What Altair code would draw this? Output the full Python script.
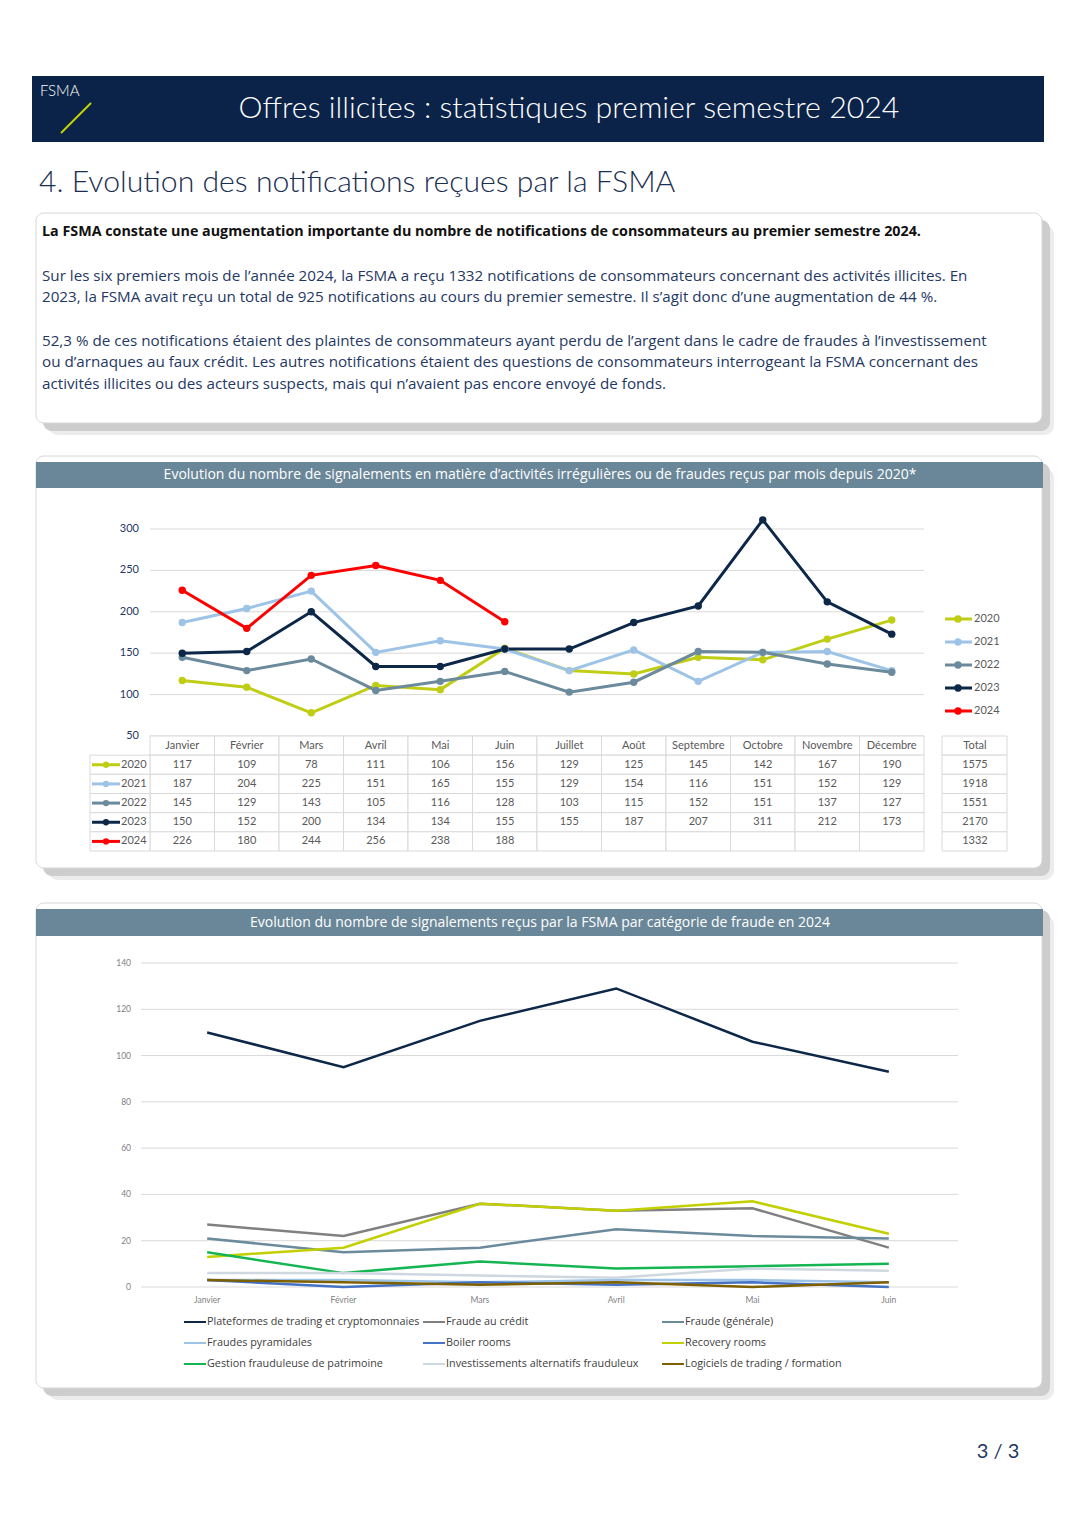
import altair as alt
import pandas as pd

M = 8  # page margin


def P(v):
    return v - M


FONT = "Lato"
FONT2 = "Open Sans"

# ---------------- texts ----------------
header_title = "Offres illicites : statistiques premier semestre 2024"
section_title = "4. Evolution des notifications reçues par la FSMA"
lead = ("La FSMA constate une augmentation importante du nombre de notifications "
        "de consommateurs au premier semestre 2024.")
para_lines = [
    "Sur les six premiers mois de l’année 2024, la FSMA a reçu 1332 notifications de consommateurs concernant des activités illicites. En",
    "2023, la FSMA avait reçu un total de 925 notifications au cours du premier semestre. Il s’agit donc d’une augmentation de 44 %.",
    "52,3 % de ces notifications étaient des plaintes de consommateurs ayant perdu de l’argent dans le cadre de fraudes à l’investissement",
    "ou d’arnaques au faux crédit. Les autres notifications étaient des questions de consommateurs interrogeant la FSMA concernant des",
    "activités illicites ou des acteurs suspects, mais qui n’avaient pas encore envoyé de fonds.",
]
chart1_title = ("Evolution du nombre de signalements en matière d’activités irrégulières "
                "ou de fraudes reçus par mois depuis 2020*")
chart2_title = "Evolution du nombre de signalements reçus par la FSMA par catégorie de fraude en  2024"
page_num = "3 / 3"

# ---------------- chart 1 data ----------------
months = ["Janvier", "Février", "Mars", "Avril", "Mai", "Juin", "Juillet", "Août",
          "Septembre", "Octobre", "Novembre", "Décembre"]
years = ["2020", "2021", "2022", "2023", "2024"]
v2020 = [117, 109, 78, 111, 106, 156, 129, 125, 145, 142, 167, 190]
v2021 = [187, 204, 225, 151, 165, 155, 129, 154, 116, 151, 152, 129]
v2022 = [145, 129, 143, 105, 116, 128, 103, 115, 152, 151, 137, 127]
v2023 = [150, 152, 200, 134, 134, 155, 155, 187, 207, 311, 212, 173]
v2024 = [226, 180, 244, 256, 238, 188]
totals = [1575, 1918, 1551, 2170, 1332]
y1_ticks = [50, 100, 150, 200, 250, 300]
year_colors = ["#bfcd14", "#9dc3e6", "#6b8a9c", "#0c2748", "#ff0000"]

# ---------------- chart 2 data ----------------
months2 = ["Janvier", "Février", "Mars", "Avril", "Mai", "Juin"]
categories = [
    "Plateformes de trading et cryptomonnaies",
    "Fraude au crédit",
    "Fraude (générale)",
    "Fraudes pyramidales",
    "Boiler rooms",
    "Recovery rooms",
    "Gestion frauduleuse de patrimoine",
    "Investissements alternatifs frauduleux",
    "Logiciels de trading / formation",
]
s_plateformes = [110, 95, 115, 129, 106, 93]
s_credit = [27, 22, 36, 33, 34, 17]
s_generale = [21, 15, 17, 25, 22, 21]
s_pyramidales = [3, 3, 2, 3, 3, 2]
s_boiler = [3, 0, 2, 1, 2, 0]
s_recovery = [13, 17, 36, 33, 37, 23]
s_gestion = [15, 6, 11, 8, 9, 10]
s_alternatifs = [6, 6, 5, 4, 8, 7]
s_logiciels = [3, 2, 1, 2, 0, 2]
y2_ticks = [0, 20, 40, 60, 80, 100, 120, 140]
cat_colors = ["#0c2748", "#808080", "#6b8a9c", "#9dc3e6", "#4472c4",
              "#c2d000", "#16b553", "#cfd8e0", "#7f6000"]

# ---------------- tables ----------------
series1 = [v2020, v2021, v2022, v2023, v2024]
rows1 = []
for y, vals in zip(years, series1):
    for i, v in enumerate(vals):
        rows1.append({"annee": y, "mois": months[i], "mi": i, "val": v, "row": y})
df1 = pd.DataFrame(rows1)

table_rows = ["Mois"] + years
df_cells = pd.DataFrame([{"row": r, "mois": m} for r in table_rows for m in months])
df_hdr = pd.DataFrame({"mois": months, "row": ["Mois"] * len(months)})
df_years = pd.DataFrame({"annee": years, "row": years})
df_tot = pd.DataFrame({"row": table_rows, "lab": ["Total"] + [str(t) for t in totals]})

series2 = [s_plateformes, s_credit, s_generale, s_pyramidales, s_boiler,
           s_recovery, s_gestion, s_alternatifs, s_logiciels]
rows2 = []
for k, (c, vals) in enumerate(zip(categories, series2)):
    for i, v in enumerate(vals):
        rows2.append({"cat": c, "k": k, "mois": months2[i], "mi": i, "val": v})
df2 = pd.DataFrame(rows2)
df_leg2 = pd.DataFrame({"cat": categories,
                        "col": [i % 3 for i in range(len(categories))],
                        "lrow": [i // 3 for i in range(len(categories))]})

dummy = pd.DataFrame({"d": [0]})


def box(x1, y1, x2, y2, **kw):
    return alt.Chart(dummy).mark_rect(**kw).encode(
        x=alt.value(P(x1)), x2=alt.value(P(x2)), y=alt.value(P(y1)), y2=alt.value(P(y2)))


def label(x, y, t, **kw):
    kw.setdefault("font", FONT)
    kw.setdefault("baseline", "middle")
    return alt.Chart(dummy).mark_text(text=t, **kw).encode(
        x=alt.value(P(x)), y=alt.value(P(y)))


def panel(x1, y1, x2, y2):
    return [
        box(x1 + 12, y1 + 12, x2 + 12, y2 + 12, color="#ececec", cornerRadius=10),
        box(x1 + 7, y1 + 7, x2 + 8, y2 + 8, color="#cdcdcd", cornerRadius=9),
        box(x1, y1, x2, y2, fill="white", stroke="#d6d6d6", strokeWidth=1, cornerRadius=8),
    ]


layers = []

# ---------------- header ----------------
layers.append(box(32, 76, 1044, 142, color="#0b2348"))
layers.append(label(40, 91, "FSMA", align="left", fontSize=15, fontWeight=300, color="white"))
layers.append(alt.Chart(dummy).mark_rule(color="#c5d300", strokeWidth=2).encode(
    x=alt.value(P(61)), y=alt.value(P(133)), x2=alt.value(P(91)), y2=alt.value(P(103))))
layers.append(label(569, 109, header_title, align="center", fontSize=30.3,
                    fontWeight=300, color="white"))
layers.append(label(39, 183, section_title, align="left", fontSize=30.2,
                    fontWeight=300, color="#1a2f52"))

# ---------------- text box ----------------
layers += panel(36, 213, 1042, 423)
layers.append(label(42, 232, lead, align="left", fontSize=14.3, fontWeight="bold",
                    color="#111111", font=FONT2))
for t, yy in zip(para_lines, [276, 297, 341, 362, 384]):
    layers.append(label(42, yy, t, align="left", fontSize=15.2, color="#1f3864", font=FONT2))

# ---------------- chart 1 frame ----------------
layers += panel(36, 456, 1042, 868)
layers.append(box(36, 462, 1043, 488, color="#6a8799"))
layers.append(label(540, 475, chart1_title, align="center", fontSize=14, color="white",
                    font=FONT2))

# ---------------- chart 2 frame ----------------
layers += panel(36, 903, 1042, 1388)
layers.append(box(36, 909, 1043, 936, color="#6a8799"))
layers.append(label(540, 923, chart2_title, align="center", fontSize=14, color="white",
                    font=FONT2))

layers.append(label(998, 1452, page_num, align="center", fontSize=20, color="#1f3864"))

# ---------------- chart 1 ----------------
x1 = alt.Scale(type="band", domain=months, range=[P(150), P(924)], paddingInner=0, paddingOuter=0)
y1 = alt.Scale(type="linear", domain=[50, 300], range=[P(736), P(529)], zero=False, nice=False)
c1 = alt.Scale(domain=years, range=year_colors)
r1 = alt.Scale(type="band", domain=table_rows, range=[P(736), P(851)], paddingInner=0, paddingOuter=0)
lg1 = alt.Scale(type="point", domain=years, range=[P(619), P(711)], padding=0)

df_t1 = pd.DataFrame({"t": y1_ticks})
layers.append(alt.Chart(df_t1).mark_rule(color="#d9d9d9", strokeWidth=1).encode(
    x=alt.value(P(150)), x2=alt.value(P(924)), y=alt.Y("t:Q", scale=y1, axis=None)))
layers.append(alt.Chart(df_t1).mark_text(font=FONT, align="right", baseline="middle",
                                         fontSize=11, color="#1f3864").encode(
    x=alt.value(P(139)), y=alt.Y("t:Q", scale=y1, axis=None), text="t:Q"))

# table cells
layers.append(alt.Chart(df_cells).mark_rect(fill="white", stroke="#d9d9d9", strokeWidth=1).encode(
    x=alt.X("mois:N", scale=x1, axis=None), y=alt.Y("row:N", scale=r1, axis=None)))
layers.append(alt.Chart(df_years).mark_rect(fill="white", stroke="#d9d9d9", strokeWidth=1).encode(
    x=alt.value(P(90)), x2=alt.value(P(150)), y=alt.Y("row:N", scale=r1, axis=None)))
layers.append(alt.Chart(df_tot).mark_rect(fill="white", stroke="#d9d9d9", strokeWidth=1).encode(
    x=alt.value(P(942)), x2=alt.value(P(1007)), y=alt.Y("row:N", scale=r1, axis=None)))

# lines
enc_x1 = alt.X("mois:N", scale=x1, axis=None, bandPosition=0.5)
layers.append(alt.Chart(df1).mark_line(strokeWidth=3).encode(
    x=enc_x1, y=alt.Y("val:Q", scale=y1, axis=None),
    color=alt.Color("annee:N", scale=c1, legend=None), order="mi:Q"))
layers.append(alt.Chart(df1).mark_circle(size=55, opacity=1).encode(
    x=enc_x1, y=alt.Y("val:Q", scale=y1, axis=None),
    color=alt.Color("annee:N", scale=c1, legend=None)))

# table texts
txt_kw = dict(font=FONT, baseline="middle", fontSize=11, color="#595959")
layers.append(alt.Chart(df_hdr).mark_text(**txt_kw).encode(
    x=enc_x1, y=alt.Y("row:N", scale=r1, axis=None, bandPosition=0.5), text="mois:N"))
layers.append(alt.Chart(df1).mark_text(**txt_kw).encode(
    x=enc_x1, y=alt.Y("row:N", scale=r1, axis=None, bandPosition=0.5), text="val:Q"))
layers.append(alt.Chart(df_tot).mark_text(**txt_kw).encode(
    x=alt.value(P(975)), y=alt.Y("row:N", scale=r1, axis=None, bandPosition=0.5), text="lab:N"))

# year column mini legend
yrow = alt.Y("row:N", scale=r1, axis=None, bandPosition=0.5)
layers.append(alt.Chart(df_years).mark_rule(strokeWidth=3).encode(
    x=alt.value(P(92)), x2=alt.value(P(120)), y=yrow,
    color=alt.Color("annee:N", scale=c1, legend=None)))
layers.append(alt.Chart(df_years).mark_circle(size=40, opacity=1).encode(
    x=alt.value(P(106)), y=yrow, color=alt.Color("annee:N", scale=c1, legend=None)))
layers.append(alt.Chart(df_years).mark_text(align="left", **txt_kw).encode(
    x=alt.value(P(121)), y=yrow, text="annee:N"))

# right legend
ylg = alt.Y("annee:N", scale=lg1, axis=None)
layers.append(alt.Chart(df_years).mark_rule(strokeWidth=3).encode(
    x=alt.value(P(945)), x2=alt.value(P(972)), y=ylg,
    color=alt.Color("annee:N", scale=c1, legend=None)))
layers.append(alt.Chart(df_years).mark_circle(size=55, opacity=1).encode(
    x=alt.value(P(958)), y=ylg, color=alt.Color("annee:N", scale=c1, legend=None)))
layers.append(alt.Chart(df_years).mark_text(align="left", **txt_kw).encode(
    x=alt.value(P(974)), y=ylg, text="annee:N"))

# ---------------- chart 2 ----------------
x2s = alt.Scale(type="point", domain=months2, range=[P(139), P(957)], padding=0.5)
y2s = alt.Scale(type="linear", domain=[0, 140], range=[P(1287), P(963)], zero=False, nice=False)
c2 = alt.Scale(domain=categories, range=cat_colors)

df_t2 = pd.DataFrame({"t": y2_ticks})
layers.append(alt.Chart(df_t2).mark_rule(color="#d9d9d9", strokeWidth=1).encode(
    x=alt.value(P(141)), x2=alt.value(P(958)), y=alt.Y("t:Q", scale=y2s, axis=None)))
layers.append(alt.Chart(df_t2).mark_text(font=FONT, align="right", baseline="middle",
                                         fontSize=8.5, color="#7f7f7f").encode(
    x=alt.value(P(131)), y=alt.Y("t:Q", scale=y2s, axis=None), text="t:Q"))
layers.append(alt.Chart(pd.DataFrame({"mois": months2})).mark_text(
    font=FONT, baseline="middle", fontSize=8.5, color="#7f7f7f").encode(
    x=alt.X("mois:N", scale=x2s, axis=None), y=alt.value(P(1300)), text="mois:N"))

layers.append(alt.Chart(df2).mark_line(strokeWidth=2.5).encode(
    x=alt.X("mois:N", scale=x2s, axis=None),
    y=alt.Y("val:Q", scale=y2s, axis=None),
    color=alt.Color("cat:N", scale=c2, legend=None),
    detail="k:O", order="mi:Q"))

lgx = alt.Scale(type="linear", domain=[0, 2], range=[P(195), P(673)], zero=False, nice=False)
lgy = alt.Scale(type="linear", domain=[0, 2], range=[P(1322), P(1364)], zero=False, nice=False)
layers.append(alt.Chart(df_leg2).mark_point(shape="stroke", size=484, strokeWidth=2,
                                            filled=False, opacity=1).encode(
    x=alt.X("col:Q", scale=lgx, axis=None), y=alt.Y("lrow:Q", scale=lgy, axis=None),
    color=alt.Color("cat:N", scale=c2, legend=None)))
layers.append(alt.Chart(df_leg2).mark_text(font=FONT2, align="left", baseline="middle",
                                           dx=12, fontSize=10.8, color="#404040").encode(
    x=alt.X("col:Q", scale=lgx, axis=None), y=alt.Y("lrow:Q", scale=lgy, axis=None),
    text="cat:N"))

chart = alt.layer(*layers).resolve_scale(
    x="independent", y="independent", color="independent"
).properties(
    width=1060, height=1506, padding=0, background="white",
    autosize=alt.AutoSizeParams(type="none"),
).configure_view(stroke=None)

chart.save("out.html", embed_options={"renderer": "svg", "actions": False})
